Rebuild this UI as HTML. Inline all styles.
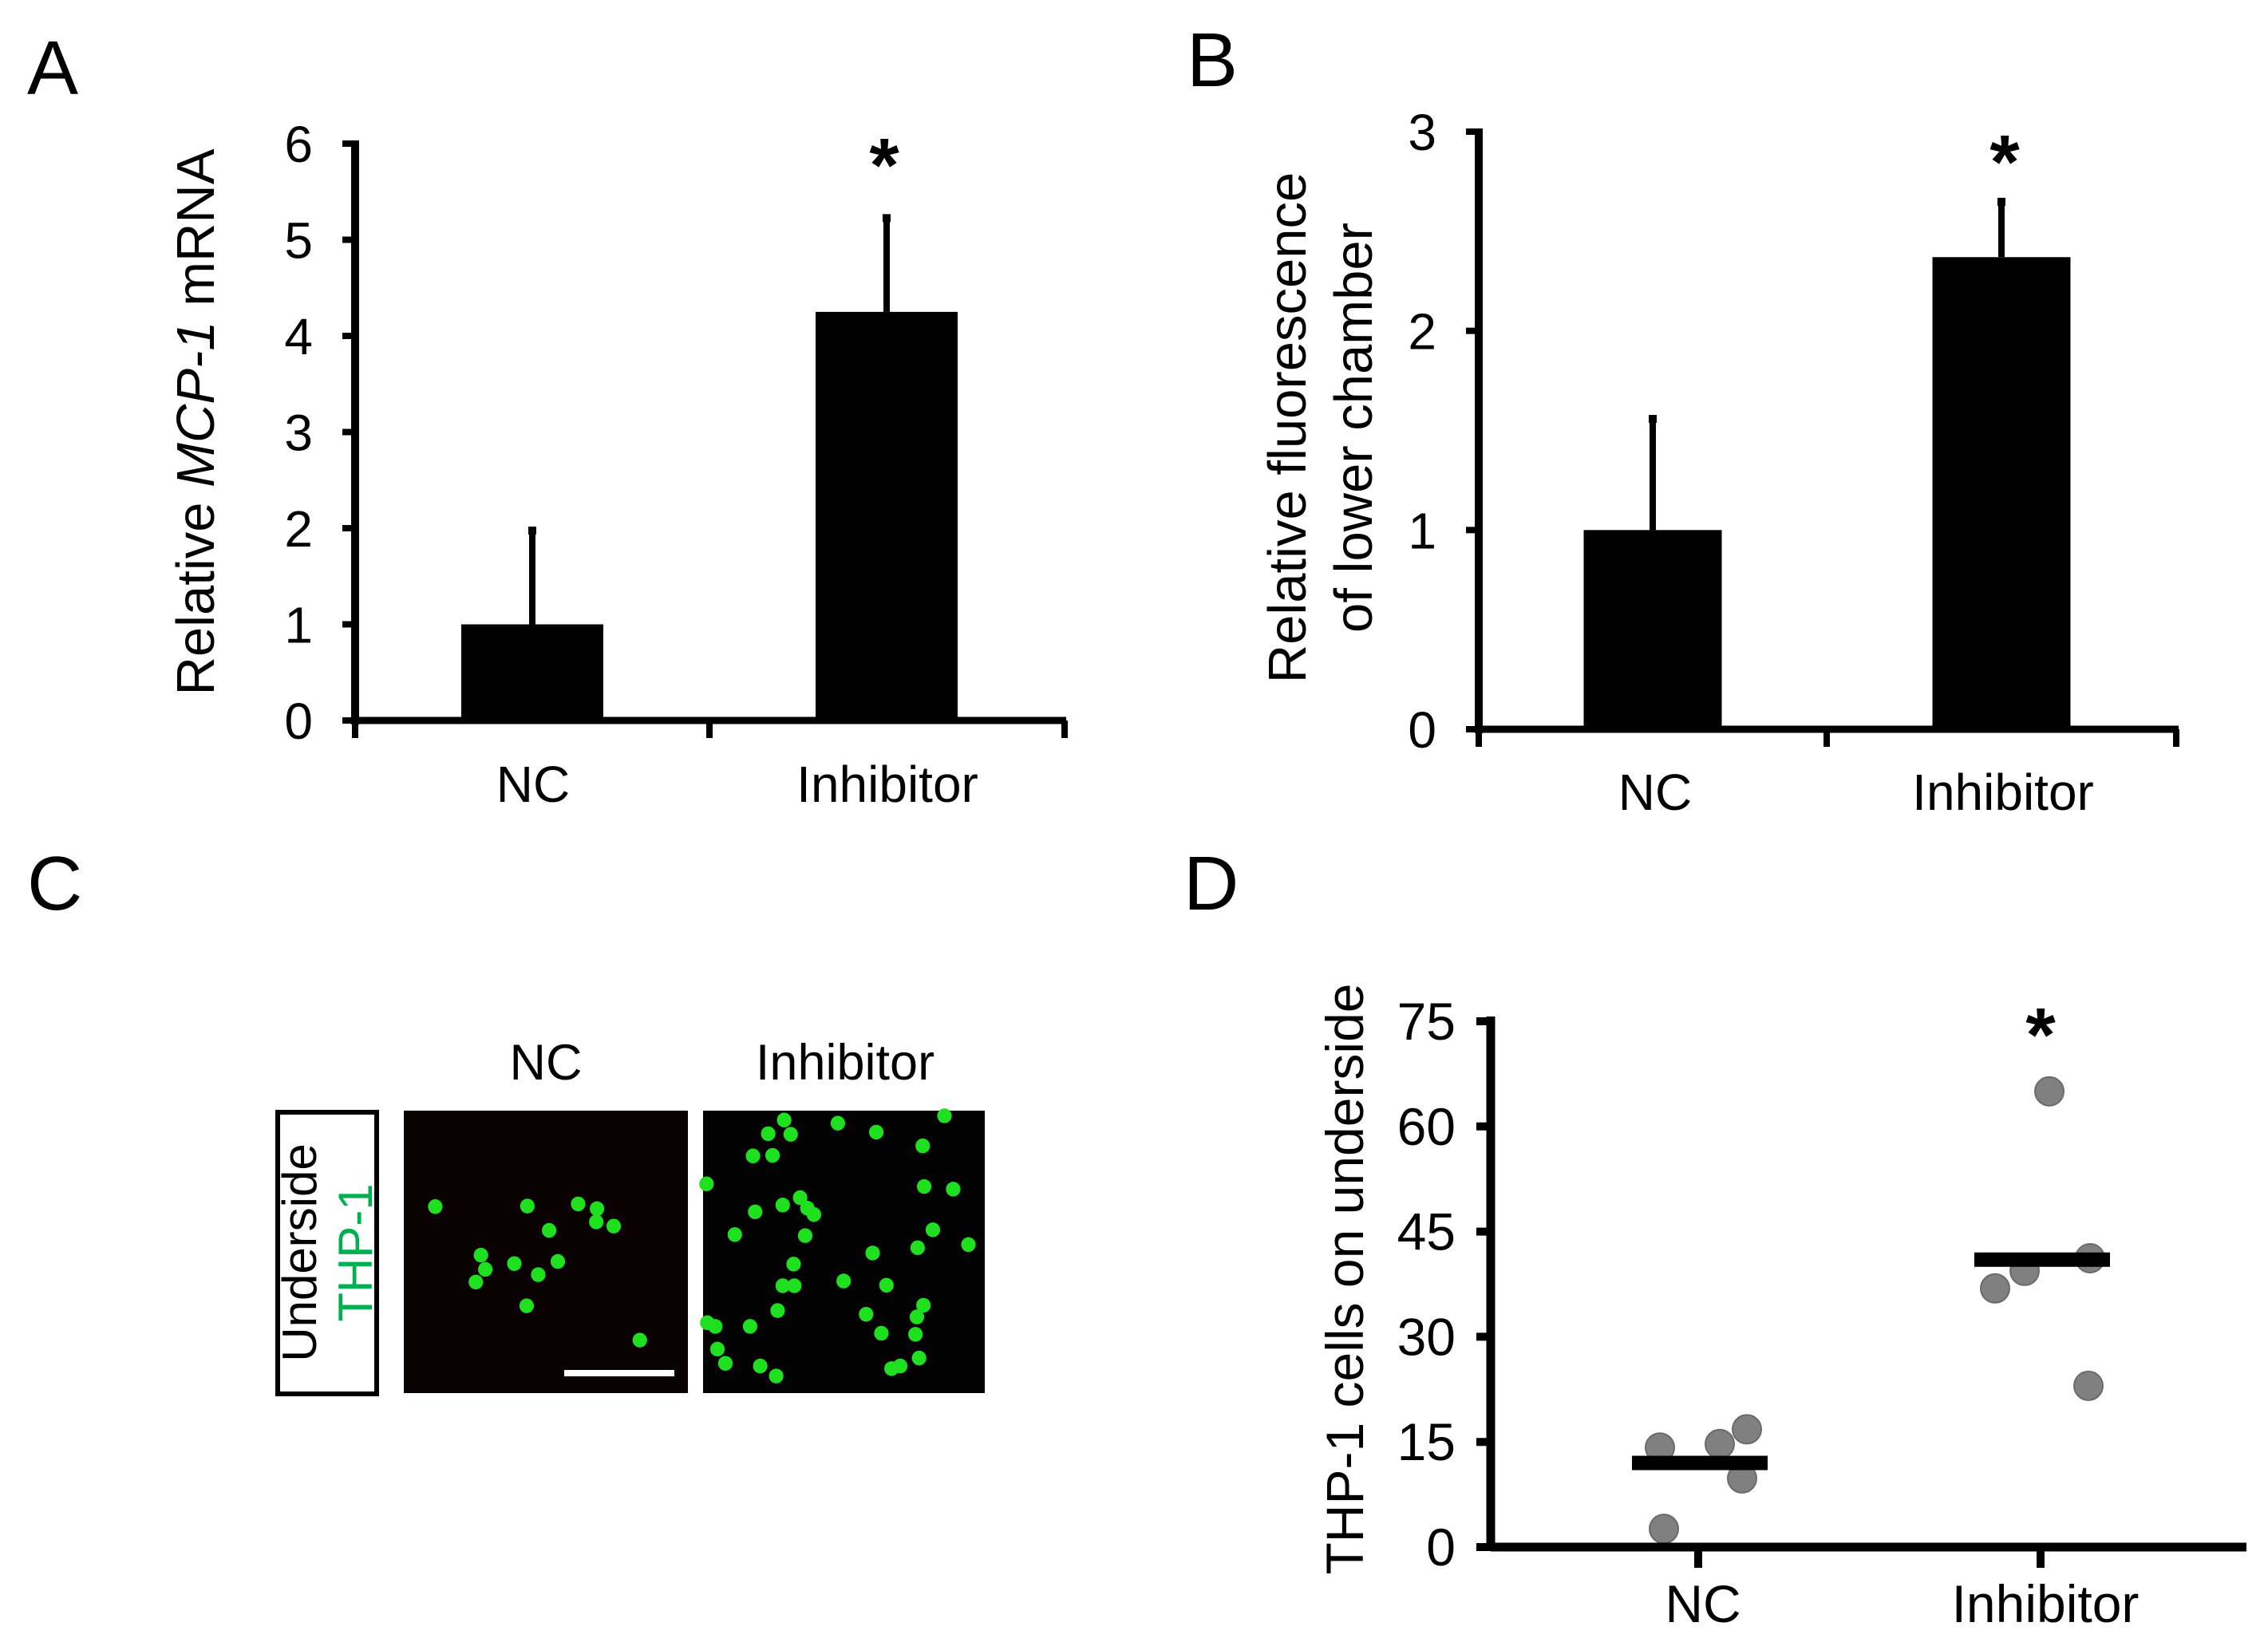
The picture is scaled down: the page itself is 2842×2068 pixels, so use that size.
<!DOCTYPE html>
<html><head><meta charset="utf-8">
<style>
html,body{margin:0;padding:0;background:#fff;}
svg{display:block;font-family:"Liberation Sans",Arial,sans-serif;}
</style></head>
<body>
<svg id="fig" width="2842" height="2068" viewBox="0 0 2842 2068" xmlns="http://www.w3.org/2000/svg">
<rect x="0" y="0" width="2842" height="2068" fill="#fff"/>
<text x="34" y="118" font-size="96">A</text>
<text x="1487" y="108" font-size="96">B</text>
<text x="34" y="1140" font-size="96">C</text>
<text x="1483" y="1140" font-size="96">D</text>

<!-- Panel C -->
<g>
  <text x="684" y="1353" font-size="63" text-anchor="middle">NC</text>
  <text x="1059" y="1353" font-size="63" text-anchor="middle">Inhibitor</text>
  <rect x="348" y="1394" width="124" height="353" fill="#fff" stroke="#000" stroke-width="6"/>
  <text transform="translate(396,1570) rotate(-90)" font-size="60" text-anchor="middle">Underside</text>
  <text transform="translate(466,1570) rotate(-90)" font-size="60" text-anchor="middle" fill="#00b050">THP-1</text>
  <rect x="506" y="1392" width="356" height="354" fill="#0a0202"/>
  <rect x="881" y="1392" width="353" height="354" fill="#020202"/>
  <g id="cells" transform="translate(0,1034) scale(0.909,0.6615)"></g>
  <rect x="707" y="1717" width="138" height="8" fill="#fff"/>
</g>
</svg>
<script>
// ---------- Data ----------
const aCategories = ["NC", "Inhibitor"];
const aMeans = [1.0, 4.25];
const aErrors = [1.0, 1.0];
const aTicks = [0, 1, 2, 3, 4, 5, 6];

const bCategories = ["NC", "Inhibitor"];
const bMeans = [1.0, 2.37];
const bErrors = [0.57, 0.29];
const bTicks = [0, 1, 2, 3];

const dCategories = ["NC", "Inhibitor"];
const dNcValues = [14.2, 14.7, 16.8, 9.8, 2.6];
const dInhValues = [65, 36.9, 39.4, 41.2, 23];
const dMedians = [12, 41];
const dTicks = [0, 15, 30, 45, 60, 75];
const dNcJitter = [-50, 25, 59, 53, -45];
const dInhJitter = [9, -59, -22, 60, 58];

const ncCells = [[600,723],[727,722],[797,718],[823,727],[822,752],[846,760],[757,768],[663,815],[669,842],[709,831],[769,827],[742,852],[656,866],[726,911],[882,976]];
const inhCells = [[1081,559],[1059,585],[1090,586],[1155,565],[1208,582],[1302,551],[1272,608],[1065,626],[1038,627],[1274,685],[1041,733],[1079,720],[1103,706],[1113,726],[1122,738],[1335,795],[1094,832],[1079,873],[1095,873],[1163,864],[1222,872],[1265,801],[1203,811],[1072,920],[1194,927],[1273,910],[1264,932],[986,950],[1034,950],[1215,963],[1262,965],[989,993],[1000,1020],[1048,1025],[1070,1044],[1241,1025],[1267,1010],[975,943],[1314,690],[974,680],[1013,776],[1110,778],[1286,767],[1229,1030]];

const NS = "http://www.w3.org/2000/svg";
const svg = document.getElementById("fig");
function mk(tag, attrs, parent) {
  const e = document.createElementNS(NS, tag);
  for (const k in attrs) e.setAttribute(k, attrs[k]);
  (parent || svg).appendChild(e);
  return e;
}

function barPanel(p, cats, means, errs, ticks, id) {
  const y = v => p.y0 - (v - ticks[0]) / (ticks[ticks.length-1] - ticks[0]) * (p.y0 - p.yTop);
  const g = mk("g", {});
  
  
  cats.forEach((c, i) => {
    const cx = p.cx[i];
    const bar = mk("rect", {x: cx - p.bw/2, y: y(means[i]), width: p.bw, height: p.y0 - y(means[i]), fill: "#000"}, g);
    
    
    const eb = mk("line", {x1: cx, x2: cx, y1: y(means[i]), y2: y(means[i] + errs[i]), stroke: "#000", "stroke-width": 8}, g);
    
    
    const cap = mk("rect", {x: cx - 5, y: y(means[i] + errs[i]) - 2, width: 10, height: 10, fill: "#000"}, g);
    
    
    const lab = mk("text", {x: p.lx[i], y: p.ly, "font-size": 64, "text-anchor": "middle"}, g);
    lab.textContent = c;
    
    
  });
  const ya = mk("line", {x1: p.x0, x2: p.x0, y1: p.yTop - 4, y2: p.y0 + 5, stroke: "#000", "stroke-width": 10}, g);
  
  
  const xa = mk("line", {x1: p.x0, x2: p.xEnd, y1: p.y0, y2: p.y0, stroke: "#000", "stroke-width": 9}, g);
  
  
  p.xt.forEach(xt => {
    const t = mk("line", {x1: xt, x2: xt, y1: p.y0, y2: p.y0 + 22, stroke: "#000", "stroke-width": 8}, g);
    
    
  });
  ticks.forEach(v => {
    const t = mk("line", {x1: p.x0 - 16, x2: p.x0, y1: y(v), y2: y(v), stroke: "#000", "stroke-width": 8}, g);
    
    
    const tl = mk("text", {x: p.tlx, y: y(v) + 23, "font-size": 64, "text-anchor": "end"}, g);
    tl.textContent = v;
    
    
  });
  const st = mk("text", {x: p.star[0], y: p.star[1] + 50, "font-size": 96, "font-weight": "bold", "text-anchor": "middle"}, g);
  st.textContent = "*";
  
  
  return g;
}

const gA = barPanel({x0: 445, xEnd: 1336, y0: 903, yTop: 180, cx: [667, 1111], bw: 178, xt: [445, 889, 1334], lx: [668, 1112], ly: 1005, tlx: 392, star: [1108, 190]}, aCategories, aMeans, aErrors, aTicks, "a");
const aTitle = mk("text", {transform: "translate(268,529) rotate(-90)", "font-size": 67, "text-anchor": "middle"}, gA);
aTitle.innerHTML = 'Relative <tspan font-style="italic">MCP-1</tspan> mRNA';



const gB = barPanel({x0: 1853, xEnd: 2730, y0: 914, yTop: 165, cx: [2071, 2508], bw: 173, xt: [1853, 2289, 2727], lx: [2074, 2510], ly: 1015, tlx: 1800, star: [2512, 186]}, bCategories, bMeans, bErrors, bTicks, "b");
const bT1 = mk("text", {transform: "translate(1636,536) rotate(-90)", "font-size": 67, "text-anchor": "middle"}, gB);
bT1.textContent = "Relative fluorescence";


const bT2 = mk("text", {transform: "translate(1719,536) rotate(-90)", "font-size": 67, "text-anchor": "middle"}, gB);
bT2.textContent = "of lower chamber";



// Panel C cells
const cellsG = document.getElementById("cells");


ncCells.concat(inhCells).forEach(c => {
  const e = mk("ellipse", {cx: c[0], cy: c[1], rx: 10, ry: 14, fill: "#1fe01f"}, cellsG);
  
  
});

// Panel D
(function(){
  const x0 = 1868, xEnd = 2815, y0 = 1939, yTop = 1280;
  const centers = [2130, 2559];
  const y = v => y0 - (v - dTicks[0]) / (dTicks[dTicks.length-1] - dTicks[0]) * (y0 - yTop);
  const g = mk("g", {});
  
  
  const ya = mk("line", {x1: x0, x2: x0, y1: yTop - 6, y2: y0 + 5, stroke: "#000", "stroke-width": 11}, g);
  
  
  dTicks.forEach(v => {
    const t = mk("line", {x1: x0 - 18, x2: x0, y1: y(v), y2: y(v), stroke: "#000", "stroke-width": 10}, g);
    
    
    const tl = mk("text", {x: 1824, y: y(v) + 23, "font-size": 66, "text-anchor": "end"}, g);
    tl.textContent = v;
    
    
  });
  const series = [[dNcValues, dNcJitter], [dInhValues, dInhJitter]];
  series.forEach((s, i) => {
    s[0].forEach((v, j) => {
      const c = mk("circle", {cx: centers[i] + s[1][j], cy: y(v), r: 18, fill: "#808080", stroke: "#6a6a6a", "stroke-width": 2}, g);
      
      
    });
  });
  dMedians.forEach((m, i) => {
    const l = mk("rect", {x: centers[i] - 85, y: y(m) - 9, width: 170, height: 18, fill: "#000"}, g);
    
    
    const t = mk("line", {x1: centers[i] - 2, x2: centers[i] - 2, y1: y0, y2: y0 + 26, stroke: "#000", "stroke-width": 10}, g);
    
    
    const lab = mk("text", {x: centers[i] + 4, y: 2033, "font-size": 66, "text-anchor": "middle"}, g);
    lab.textContent = dCategories[i];
    
    
  });
  const xa = mk("line", {x1: x0, x2: xEnd, y1: y0, y2: y0, stroke: "#000", "stroke-width": 11}, g);
  
  
  const st = mk("text", {x: 2557, y: 1330, "font-size": 96, "font-weight": "bold", "text-anchor": "middle"}, g);
  st.textContent = "*";
  
  
  const tt = mk("text", {transform: "translate(1708,1603) rotate(-90)", "font-size": 66, "text-anchor": "middle"}, g);
  tt.textContent = "THP-1 cells on underside";
  
  
})();
</script>
</body></html>
